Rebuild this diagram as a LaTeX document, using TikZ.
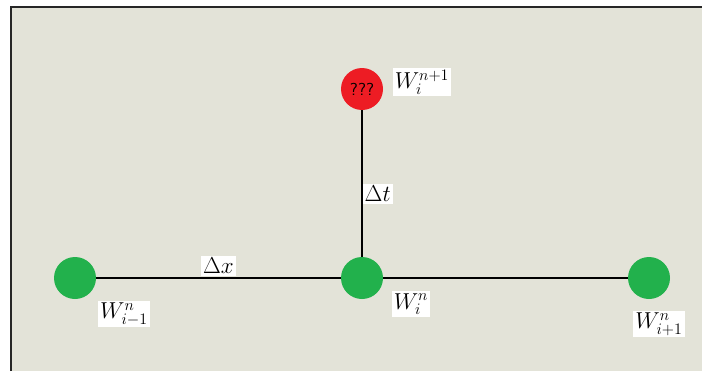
\documentclass[tikz,border=0pt]{standalone}
\usepackage{tikz}
\usetikzlibrary{positioning}
\definecolor{panelbg}{RGB}{227,227,216}
\definecolor{ptgreen}{RGB}{34,177,76}
\definecolor{ptred}{RGB}{237,28,36}

\begin{document}
\begin{tikzpicture}[x=0.75pt,y=-0.75pt,
  pt/.style={circle,minimum size=31.5pt,inner sep=0pt},
  lbl/.style={fill=white,inner sep=1.5pt,font=\fontsize{17}{19}\selectfont},
  link/.style={line width=1.1pt,black}]
\useasboundingbox (0,0) rectangle (702,371);
\fill[panelbg] (11,7) rectangle (702,371);
\draw[line width=2pt,black!85] (11,371) -- (11,7) -- (702,7);
% grid points
\node[pt,fill=ptgreen] (wl) at (75,278) {};
\node[pt,fill=ptgreen] (wc) at (362,278) {};
\node[pt,fill=ptgreen] (wr) at (649,278) {};
\node[pt,fill=ptred,font=\sffamily\fontsize{13}{15}\selectfont] (wt) at (362,89) {???};
% links
\draw[link] (wl) -- node[lbl,above=1pt,pos=0.5]{$\Delta x$} (wc);
\draw[link] (wc) -- (wr);
\draw[link] (wt) -- node[lbl,right=0pt,pos=0.57]{$\Delta t$} (wc);
% labels
\node[lbl] (lt) at (422,82) {$W_i^{n+1}$};
\node[lbl] (ll) at (124,314) {$W_{i-1}^n$};
\node[lbl] (lc) at (411,304) {$W_i^n$};
\node[lbl] (lr) at (659,324) {$W_{i+1}^n$};
\end{tikzpicture}
\end{document}
